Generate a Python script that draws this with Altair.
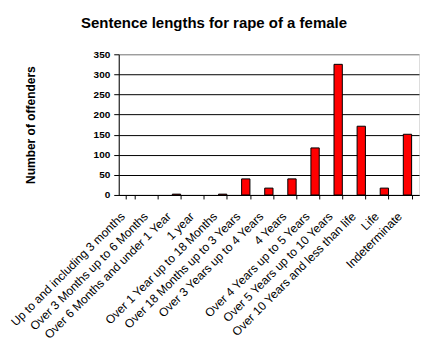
import altair as alt
import pandas as pd

categories = [
    "Up to and including 3 months",
    "Over 3 Months up to 6 Months",
    "Over 6 Months and under 1 Year",
    "1 year",
    "Over 1 Year up to 18 Months",
    "Over 18 Months up to 3 Years",
    "Over 3 Years up to 4 Years",
    "4 Years",
    "Over 4 Years up to 5 Years",
    "Over 5 Years up to 10 Years",
    "Over 10 Years and less than life",
    "Life",
    "Indeterminate",
]
offenders = [0, 0, 2, 0, 2, 40, 17, 40, 117, 325, 171, 17, 151]
y_ticks = [0, 50, 100, 150, 200, 250, 300, 350]

df = pd.DataFrame({"category": categories, "offenders": offenders})

chart = (
    alt.Chart(df)
    .mark_bar(color="#ff0000", stroke="black", strokeWidth=1)
    .encode(
        x=alt.X(
            "category:N",
            sort=categories,
            title=None,
            scale=alt.Scale(paddingInner=0.64, paddingOuter=0.32),
            axis=alt.Axis(
                labelAngle=-45,
                labelAlign="right",
                labelBaseline="middle",
                labelFont="Liberation Sans",
                labelFontSize=12,
                labelColor="black",
                labelPadding=15,
                labelOffset=-8,
                tickBand="extent",
                tickColor="black",
                tickSize=4,
                domainColor="black",
                grid=False,
            ),
        ),
        y=alt.Y(
            "offenders:Q",
            title="Number of offenders",
            scale=alt.Scale(domain=[0, 350], nice=False),
            axis=alt.Axis(
                values=y_ticks,
                labelFont="Liberation Sans",
                labelFontWeight="bold",
                labelFontSize=10,
                labelColor="black",
                labelPadding=4,
                tickColor="black",
                tickSize=5,
                domainColor="black",
                gridColor=alt.condition(alt.datum.value == 350, alt.value("#808080"), alt.value("black")),
                gridOpacity=1,
                titleFont="Liberation Sans",
                titleFontWeight="bold",
                titleFontSize=12,
                titleColor="black",
                titlePadding=56,
            ),
        ),
        strokeOpacity=alt.condition(alt.datum.offenders > 0, alt.value(1), alt.value(0)),
    )
    .properties(
        width=301,
        height=141,
        title=alt.TitleParams(
            "Sentence lengths for rape of a female",
            font="Liberation Sans",
            fontSize=15,
            fontWeight="bold",
            color="black",
            anchor="middle",
            dx=-55,
            offset=18,
        ),
        autosize=alt.AutoSizeParams(type="none"),
        padding={"left": 111, "top": 46, "right": 4, "bottom": 150},
    )
    .configure_view(stroke="#808080", strokeWidth=1)
    .configure(background="white")
)

chart.save("out.html", embed_options={"renderer": "svg", "actions": False})
